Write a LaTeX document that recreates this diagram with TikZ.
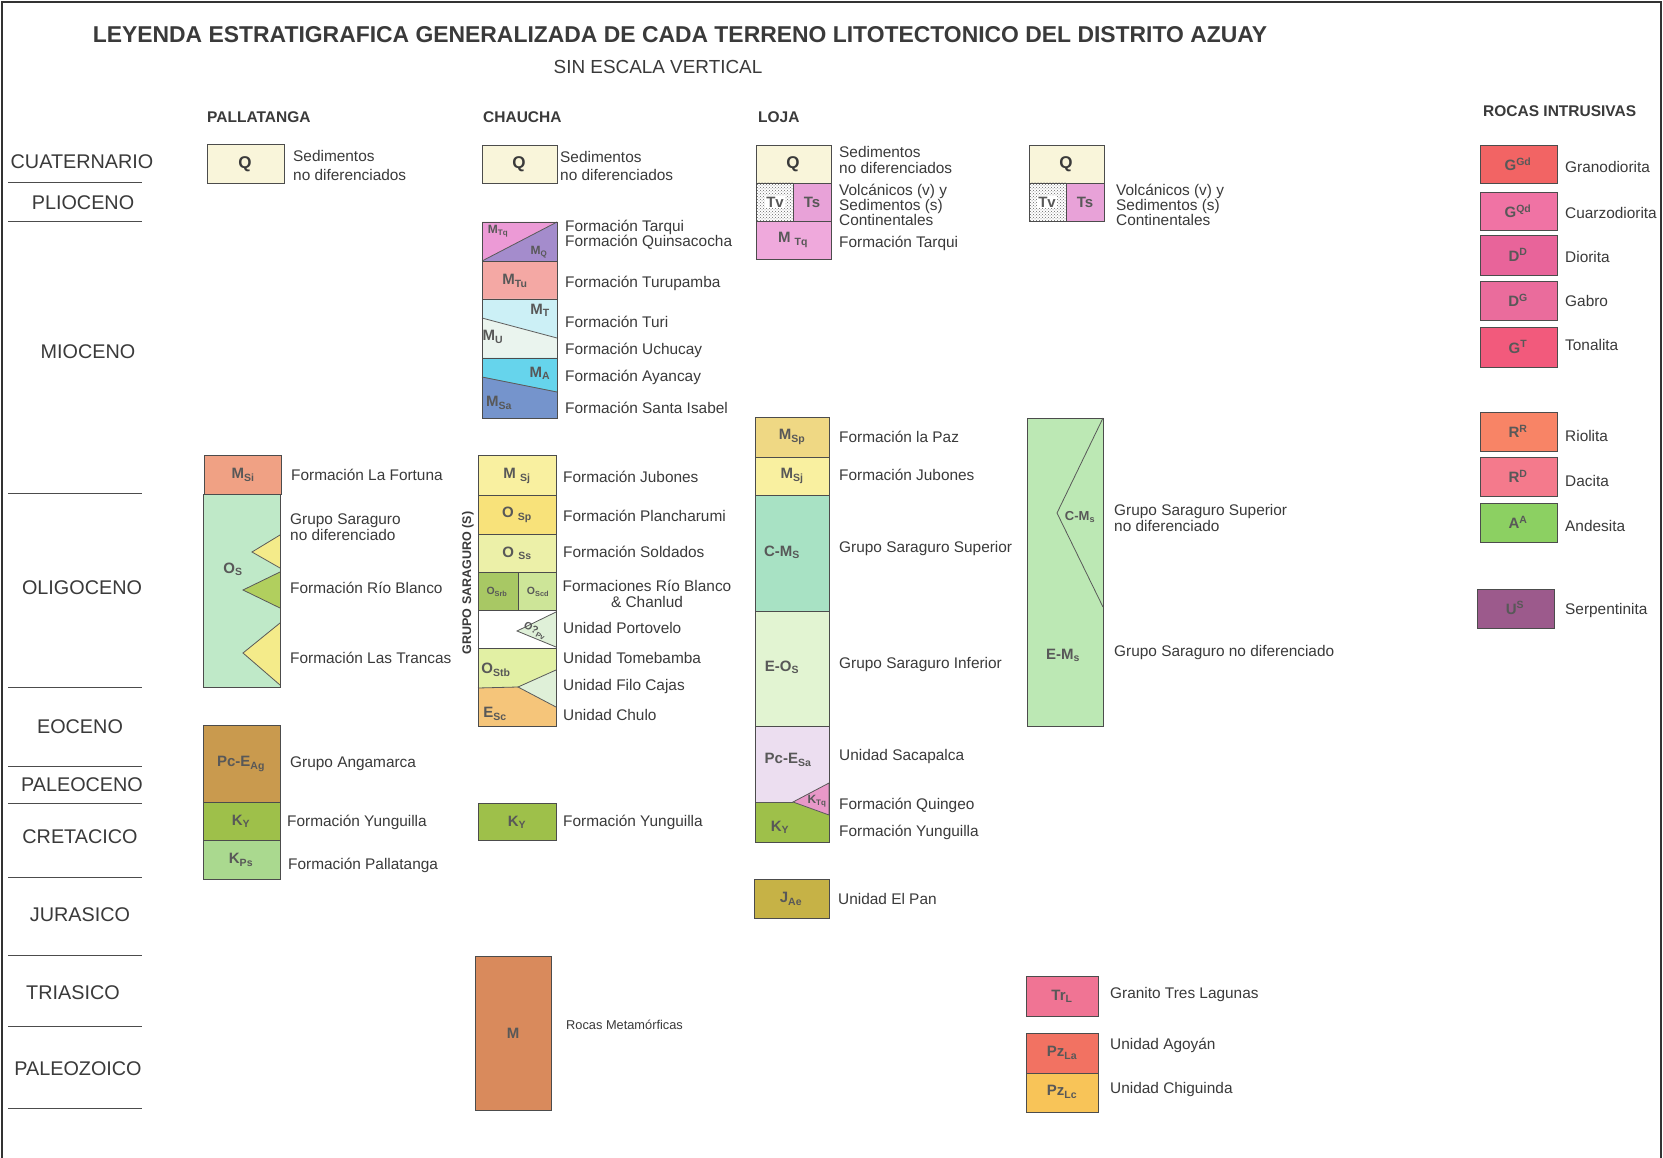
\documentclass[tikz,border=0pt]{standalone}
\usepackage{fontspec}
\setmainfont{Liberation Sans}
\usetikzlibrary{patterns}

\definecolor{inkc}{HTML}{3A3A3A}
\definecolor{labc}{HTML}{585858}
\definecolor{cQ}{HTML}{F9F5DA}
\definecolor{cFort}{HTML}{F0A184}
\definecolor{cSarP}{HTML}{BFE9C8}
\definecolor{cYel}{HTML}{F4EB8A}
\definecolor{cRioB}{HTML}{B1CF5E}
\definecolor{cAng}{HTML}{C99A4E}
\definecolor{cYun}{HTML}{9EC04A}
\definecolor{cPal}{HTML}{AAD98F}
\definecolor{cTarq}{HTML}{EC9AD6}
\definecolor{cQuin}{HTML}{A48CCC}
\definecolor{cTuru}{HTML}{F4A8A4}
\definecolor{cTuri}{HTML}{CCF0F6}
\definecolor{cUchu}{HTML}{EAF4EE}
\definecolor{cAyan}{HTML}{66D4EC}
\definecolor{cSIsa}{HTML}{7594CC}
\definecolor{cJub}{HTML}{F9F0A0}
\definecolor{cPlan}{HTML}{F8E27A}
\definecolor{cSold}{HTML}{ECF0A8}
\definecolor{cRioC}{HTML}{A8C864}
\definecolor{cChan}{HTML}{CDE598}
\definecolor{cPort}{HTML}{DFF0D8}
\definecolor{cTome}{HTML}{E2F0A4}
\definecolor{cChul}{HTML}{F5C57A}
\definecolor{cTs}{HTML}{E8A2D8}
\definecolor{cPaz}{HTML}{EFD884}
\definecolor{cSup}{HTML}{A8E2C4}
\definecolor{cInf}{HTML}{E2F4D2}
\definecolor{cSaca}{HTML}{ECDEF0}
\definecolor{cQuing}{HTML}{E898C8}
\definecolor{cPan}{HTML}{C6B246}
\definecolor{cSarD}{HTML}{BCE8B4}
\definecolor{cMeta}{HTML}{D98A5C}
\definecolor{cTrL}{HTML}{F07494}
\definecolor{cAgo}{HTML}{F27262}
\definecolor{cChig}{HTML}{F8C458}
\definecolor{cGGd}{HTML}{F26464}
\definecolor{cGQd}{HTML}{F073A4}
\definecolor{cDD}{HTML}{E8649A}
\definecolor{cDG}{HTML}{EA6C9C}
\definecolor{cGT}{HTML}{F25A7C}
\definecolor{cRR}{HTML}{F88466}
\definecolor{cRD}{HTML}{F47A8C}
\definecolor{cAA}{HTML}{8CD062}
\definecolor{cUS}{HTML}{9C5A8C}

\newcommand{\unitlo}[2]{#1\textsubscript{#2}}
\newcommand{\unithi}[2]{#1\textsuperscript{#2}}

\tikzset{
  box/.style={draw=black!70, line width=0.9pt},
  edge/.style={draw=black!65, line width=0.8pt},
  lab/.style={font=\bfseries\fontsize{15}{15}\selectfont, text=labc, inner sep=0pt},
  labs/.style={font=\bfseries\fontsize{12}{12}\selectfont, text=labc, inner sep=0pt},
  labt/.style={font=\bfseries\fontsize{10.5}{10.5}\selectfont, text=labc, inner sep=0pt},
  bigq/.style={font=\bfseries\fontsize{17}{17}\selectfont, text=inkc, inner sep=0pt},
  desc/.style={font=\fontsize{15.4}{15.4}\selectfont, text=inkc, anchor=west, align=left, inner sep=0pt},
  epoch/.style={font=\fontsize{19.8}{20}\selectfont, text=inkc, inner sep=0pt},
  head/.style={font=\bfseries\fontsize{15.5}{16}\selectfont, text=inkc, anchor=west, inner sep=0pt},
  sep/.style={draw=black!70, line width=0.8pt},
}

\begin{document}
\begin{tikzpicture}[x=1pt,y=-1pt]

\path [use as bounding box] (0,0) rectangle (1663,1158);
\fill [white] (0,0) rectangle (1663,1158);
\draw [line width=1.5pt, black!80] (2,1158) -- (2,2) -- (1661,2) -- (1661,1158);

% TITLE
\node [font=\bfseries\fontsize{22.9}{23}\selectfont, text=inkc] (title) at (680,35)
  {LEYENDA ESTRATIGRAFICA GENERALIZADA DE CADA TERRENO LITOTECTONICO DEL DISTRITO AZUAY};
\node [font=\fontsize{18.9}{19}\selectfont, text=inkc] (escala) at (658,67) {SIN ESCALA VERTICAL};

\node [head] (hPal) at (207,117) {PALLATANGA};
\node [head] (hCha) at (483,117) {CHAUCHA};
\node [head] (hLoj) at (758,117) {LOJA};
\node [head] (hInt) at (1483,111) {ROCAS INTRUSIVAS};

% EPOCHS
\node [epoch] (eCua) at (82,162) {CUATERNARIO};
\node [epoch] (ePli) at (83,203) {PLIOCENO};
\node [epoch] (eMio) at (88,352) {MIOCENO};
\node [epoch] (eOli) at (82,588) {OLIGOCENO};
\node [epoch] (eEoc) at (80,727) {EOCENO};
\node [epoch] (ePal) at (82,785) {PALEOCENO};
\node [epoch] (eCre) at (80,837) {CRETACICO};
\node [epoch] (eJur) at (80,915) {JURASICO};
\node [epoch] (eTri) at (73,993) {TRIASICO};
\node [epoch] (ePzo) at (78,1069) {PALEOZOICO};
\foreach \yy in {182,221,493,687,766,803,877,955,1026,1108}
  \draw [sep] (8,\yy) -- (142,\yy);

% PALLATANGA
\filldraw [box, fill=cQ] (207,144) rectangle (284,183);
\node [bigq] (pQ) at (245,164) {Q};
\node [desc, font=\fontsize{15.4}{19}\selectfont] (pQt) at (293,165) {Sedimentos\\no diferenciados};

\filldraw [box, fill=cFort] (204,455) rectangle (281,494);
\node [lab] (pMSi) at (243,475) {\unitlo{M}{Si}};
\node [desc] (pMSit) at (291,475) {Formación La Fortuna};

\fill [cSarP] (203,494) rectangle (280,687);
\filldraw [edge, fill=cYel] (280,535) -- (252,552) -- (280,568);
\filldraw [edge, fill=cRioB] (280,572) -- (243,590) -- (280,608);
\filldraw [edge, fill=cYel] (280,623) -- (243,653) -- (280,685);
\draw [box] (203,494) rectangle (280,687);
\node [lab] (pOS) at (233,569) {\unitlo{O}{S}};
\node [desc] (pOSt) at (290,527) {Grupo Saraguro\\no diferenciado};
\node [desc] (pRBt) at (290,588) {Formación Río Blanco};
\node [desc] (pLTt) at (290,658) {Formación Las Trancas};

\filldraw [box, fill=cAng] (203,725) rectangle (280,802);
\filldraw [box, fill=cYun] (203,802) rectangle (280,840);
\filldraw [box, fill=cPal] (203,840) rectangle (280,879);
\node [lab] (pAg) at (241,764) {Pc-E\textsubscript{Ag}};
\node [lab] (pKY) at (241,821) {\unitlo{K}{Y}};
\node [lab] (pKPs) at (241,860) {K\textsubscript{Ps}};
\node [desc] (pAgt) at (290,764) {Grupo Angamarca};
\node [desc] (pKYt) at (287,822) {Formación Yunguilla};
\node [desc] (pKPst) at (288,865) {Formación Pallatanga};

% CHAUCHA
\filldraw [box, fill=cQ] (482,145) rectangle (557,183);
\node [bigq] (cQn) at (519,164) {Q};
\node [desc, font=\fontsize{15.4}{18}\selectfont] (cQt) at (560,166) {Sedimentos\\no diferenciados};

\fill [cTarq] (482,222) -- (557,222) -- (482,261) -- cycle;
\fill [cQuin] (557,222) -- (557,261) -- (482,261) -- cycle;
\draw [edge] (482,261) -- (557,222);
\fill [cTuru] (482,261) rectangle (557,299);
\fill [cTuri] (482,299) -- (557,299) -- (557,338) -- (482,318) -- cycle;
\fill [cUchu] (482,318) -- (557,338) -- (557,358) -- (482,358) -- cycle;
\draw [edge] (482,318) -- (557,338);
\fill [cAyan] (482,358) -- (557,358) -- (557,392) -- (482,377) -- cycle;
\fill [cSIsa] (482,377) -- (557,392) -- (557,418) -- (482,418) -- cycle;
\draw [edge] (482,377) -- (557,392);
\draw [box] (482,222) rectangle (557,418);
\foreach \yy in {261,299,358} \draw [box] (482,\yy) -- (557,\yy);
\node [labs] (cMTq) at (498,231) {\unitlo{M}{Tq}};
\node [labs] (cMQ) at (539,252) {\unitlo{M}{Q}};
\node [lab] (cMTu) at (515,281) {\unitlo{M}{Tu}};
\node [lab] (cMT) at (540,310) {\unitlo{M}{T}};
\node [lab] (cMU) at (493,337) {\unitlo{M}{U}};
\node [lab] (cMA) at (540,373) {\unitlo{M}{A}};
\node [lab] (cMSa) at (499,403) {\unitlo{M}{Sa}};
\node [desc] (cTqt) at (565,235) {Formación Tarqui\\Formación Quinsacocha};
\node [desc] (cTut) at (565,283) {Formación Turupamba};
\node [desc] (cTt) at (565,322) {Formación Turi};
\node [desc] (cUt) at (565,350) {Formación Uchucay};
\node [desc] (cAt) at (565,377) {Formación Ayancay};
\node [desc] (cSat) at (565,408) {Formación Santa Isabel};

\fill [cJub] (478,455) rectangle (556,495);
\fill [cPlan] (478,495) rectangle (556,534);
\fill [cSold] (478,534) rectangle (556,572);
\fill [cRioC] (478,572) rectangle (518,610);
\fill [cChan] (518,572) rectangle (556,610);
\fill [white] (478,610) rectangle (556,648);
\fill [cTome] (478,648) rectangle (556,726);
\fill [cChul] (478,688) -- (518,687) -- (556,707) -- (556,726) -- (478,726) -- cycle;
\filldraw [edge, fill=cPort] (556,612) -- (517,631) -- (556,647);
\filldraw [edge, fill=cPort] (556,670) -- (518,687) -- (556,707);
\draw [edge] (478,688) -- (518,687);
\draw [box] (478,455) rectangle (556,726);
\foreach \yy in {495,534,572,610,648} \draw [box] (478,\yy) -- (556,\yy);
\draw [box] (518,572) -- (518,610);
\node [lab] (cMSj) at (517,476) {M \textsubscript{Sj}};
\node [lab] (cOSp) at (517,515) {O \textsubscript{Sp}};
\node [lab] (cOSs) at (517,553) {O \textsubscript{Ss}};
\node [labt] (cOSrb) at (497,592) {\unitlo{O}{Srb}};
\node [labt] (cOScd) at (538,592) {\unitlo{O}{Scd}};
\node [labt, rotate=-28] (cOPv) at (535,631) {O?\textsubscript{Pv}};
\node [lab] (cOStb) at (496,670) {\unitlo{O}{Stb}};
\node [lab] (cESc) at (495,714) {\unitlo{E}{Sc}};
\node [font=\bfseries\fontsize{12.5}{13}\selectfont, text=inkc, rotate=90, inner sep=0pt] (cGrupo) at (468,583) {GRUPO SARAGURO (S)};
\node [desc] (cJt) at (563,477) {Formación Jubones};
\node [desc] (cPt) at (563,516) {Formación Plancharumi};
\node [desc] (cSt) at (563,552) {Formación Soldados};
\node [desc, anchor=center, align=center] (cRCt) at (647,594) {Formaciones Río Blanco\\\& Chanlud};
\node [desc] (cPvt) at (563,628) {Unidad Portovelo};
\node [desc] (cTbt) at (563,658) {Unidad Tomebamba};
\node [desc] (cFCt) at (563,687) {Unidad Filo Cajas};
\node [desc] (cCht) at (563,715) {Unidad Chulo};

\filldraw [box, fill=cYun] (478,803) rectangle (556,840);
\node [lab] (cKY) at (517,822) {\unitlo{K}{Y}};
\node [desc] (cKYt) at (563,822) {Formación Yunguilla};

\filldraw [box, fill=cMeta] (475,956) rectangle (551,1110);
\node [lab] (cM) at (513,1033) {M};
\node [desc, font=\fontsize{12.8}{13}\selectfont] (cMt) at (566,1025) {Rocas Metamórficas};

% LOJA
\filldraw [box, fill=cQ] (756,145) rectangle (831,183);
\node [bigq] (lQ) at (793,164) {Q};
\filldraw [box, pattern=crosshatch dots, pattern color=black!60] (756,183) rectangle (793,221);
\filldraw [box, fill=cTs] (793,183) rectangle (831,221);
\filldraw [box, fill=cTarq!85!white] (756,221) rectangle (831,259);
\node [lab, fill=white, inner sep=1pt] (lTv) at (775,202) {Tv};
\node [lab] (lTs) at (812,202) {Ts};
\node [lab] (lMTq) at (793,240) {M \textsubscript{Tq}};
\node [desc, font=\fontsize{15.4}{16}\selectfont] (lQt) at (839,160) {Sedimentos\\no diferenciados};
\node [desc] (lVt) at (839,205) {Volcánicos (v) y\\Sedimentos (s)\\Continentales};
\node [desc] (lMTqt) at (839,243) {Formación Tarqui};

\filldraw [box, fill=cPaz] (755,417) rectangle (829,457);
\filldraw [box, fill=cJub] (755,457) rectangle (829,495);
\filldraw [box, fill=cSup] (755,495) rectangle (829,611);
\filldraw [box, fill=cInf] (755,611) rectangle (829,726);
\fill [cSaca] (755,726) -- (829,726) -- (829,783) -- (793,802) -- (755,802) -- cycle;
\fill [cYun] (755,802) -- (793,802) -- (829,815) -- (829,842) -- (755,842) -- cycle;
\filldraw [edge, fill=cQuing] (793,802) -- (829,783) -- (829,815) -- cycle;
\draw [edge] (755,802) -- (793,802);
\draw [box] (755,726) rectangle (829,842);
\node [lab] (lMSp) at (792,437) {\unitlo{M}{Sp}};
\node [lab] (lMSj) at (792,476) {\unitlo{M}{Sj}};
\node [lab] (lCMS) at (782,552) {C-\unitlo{M}{S}};
\node [lab] (lEOS) at (782,667) {E-\unitlo{O}{S}};
\node [lab] (lPcE) at (788,760) {Pc-E\textsubscript{Sa}};
\node [labs] (lKTq) at (817,801) {\unitlo{K}{Tq}};
\node [lab] (lKY) at (780,827) {\unitlo{K}{Y}};
\node [desc] (lPazt) at (839,437) {Formación la Paz};
\node [desc] (lJubt) at (839,475) {Formación Jubones};
\node [desc] (lSupt) at (839,549) {Grupo Saraguro Superior};
\node [desc] (lInft) at (839,665) {Grupo Saraguro Inferior};
\node [desc] (lSact) at (839,757) {Unidad Sacapalca};
\node [desc] (lQuit) at (839,805) {Formación Quingeo};
\node [desc] (lYunt) at (839,832) {Formación Yunguilla};

\filldraw [box, fill=cPan] (754,879) rectangle (829,918);
\node [lab] (lJAe) at (791,899) {\unitlo{J}{Ae}};
\node [desc] (lPant) at (838,899) {Unidad El Pan};

% CUARTA COLUMNA
\filldraw [box, fill=cQ] (1029,145) rectangle (1104,183);
\node [bigq] (kQ) at (1066,164) {Q};
\filldraw [box, pattern=crosshatch dots, pattern color=black!60] (1029,183) rectangle (1066,221);
\filldraw [box, fill=cTs] (1066,183) rectangle (1104,221);
\node [lab, fill=white, inner sep=1pt] (kTv) at (1047,202) {Tv};
\node [lab] (kTs) at (1085,202) {Ts};
\node [desc] (kVt) at (1116,205) {Volcánicos (v) y\\Sedimentos (s)\\Continentales};

\filldraw [box, fill=cSarD] (1027,418) rectangle (1103,726);
\draw [edge] (1103,418) -- (1057,513) -- (1103,607);
\node [labs, font=\bfseries\fontsize{13}{13}\selectfont] (kCMs) at (1080,517) {C-\unitlo{M}{s}};
\node [lab] (kEMs) at (1063,655) {E-\unitlo{M}{s}};
\node [desc, font=\fontsize{15.4}{16}\selectfont] (kSupt) at (1114,518) {Grupo Saraguro Superior\\no diferenciado};
\node [desc] (kNdt) at (1114,653) {Grupo Saraguro no diferenciado};

\filldraw [box, fill=cTrL] (1026,976) rectangle (1098,1016);
\filldraw [box, fill=cAgo] (1026,1033) rectangle (1098,1073);
\filldraw [box, fill=cChig] (1026,1073) rectangle (1098,1112);
\node [lab] (kTrL) at (1062,996) {\unitlo{Tr}{L}};
\node [lab] (kPzLa) at (1062,1053) {\unitlo{Pz}{La}};
\node [lab] (kPzLc) at (1062,1092) {\unitlo{Pz}{Lc}};
\node [desc] (kTrLt) at (1110,995) {Granito Tres Lagunas};
\node [desc] (kAgot) at (1110,1045) {Unidad Agoyán};
\node [desc] (kChit) at (1110,1090) {Unidad Chiguinda};

% ROCAS INTRUSIVAS
\filldraw [box, fill=cGGd] (1480,145) rectangle (1557,183);
\filldraw [box, fill=cGQd] (1480,192) rectangle (1557,230);
\filldraw [box, fill=cDD] (1480,235) rectangle (1557,275);
\filldraw [box, fill=cDG] (1480,281) rectangle (1557,320);
\filldraw [box, fill=cGT] (1480,327) rectangle (1557,367);
\filldraw [box, fill=cRR] (1480,412) rectangle (1557,451);
\filldraw [box, fill=cRD] (1480,457) rectangle (1557,496);
\filldraw [box, fill=cAA] (1480,503) rectangle (1557,542);
\filldraw [box, fill=cUS] (1477,589) rectangle (1554,628);
\node [lab] (iGGd) at (1518,164) {\unithi{G}{Gd}};
\node [lab] (iGQd) at (1518,211) {\unithi{G}{Qd}};
\node [lab] (iDD) at (1518,255) {\unithi{D}{D}};
\node [lab] (iDG) at (1518,300) {\unithi{D}{G}};
\node [lab] (iGT) at (1518,347) {\unithi{G}{T}};
\node [lab] (iRR) at (1518,431) {\unithi{R}{R}};
\node [lab] (iRD) at (1518,476) {\unithi{R}{D}};
\node [lab] (iAA) at (1518,522) {\unithi{A}{A}};
\node [lab] (iUS) at (1515,608) {\unithi{U}{S}};
\node [desc] (iGGdt) at (1565,167) {Granodiorita};
\node [desc] (iGQdt) at (1565,213) {Cuarzodiorita};
\node [desc] (iDDt) at (1565,257) {Diorita};
\node [desc] (iDGt) at (1565,301) {Gabro};
\node [desc] (iGTt) at (1565,345) {Tonalita};
\node [desc] (iRRt) at (1565,436) {Riolita};
\node [desc] (iRDt) at (1565,481) {Dacita};
\node [desc] (iAAt) at (1565,526) {Andesita};
\node [desc] (iUSt) at (1565,611) {Serpentinita};

\end{tikzpicture}
\end{document}
